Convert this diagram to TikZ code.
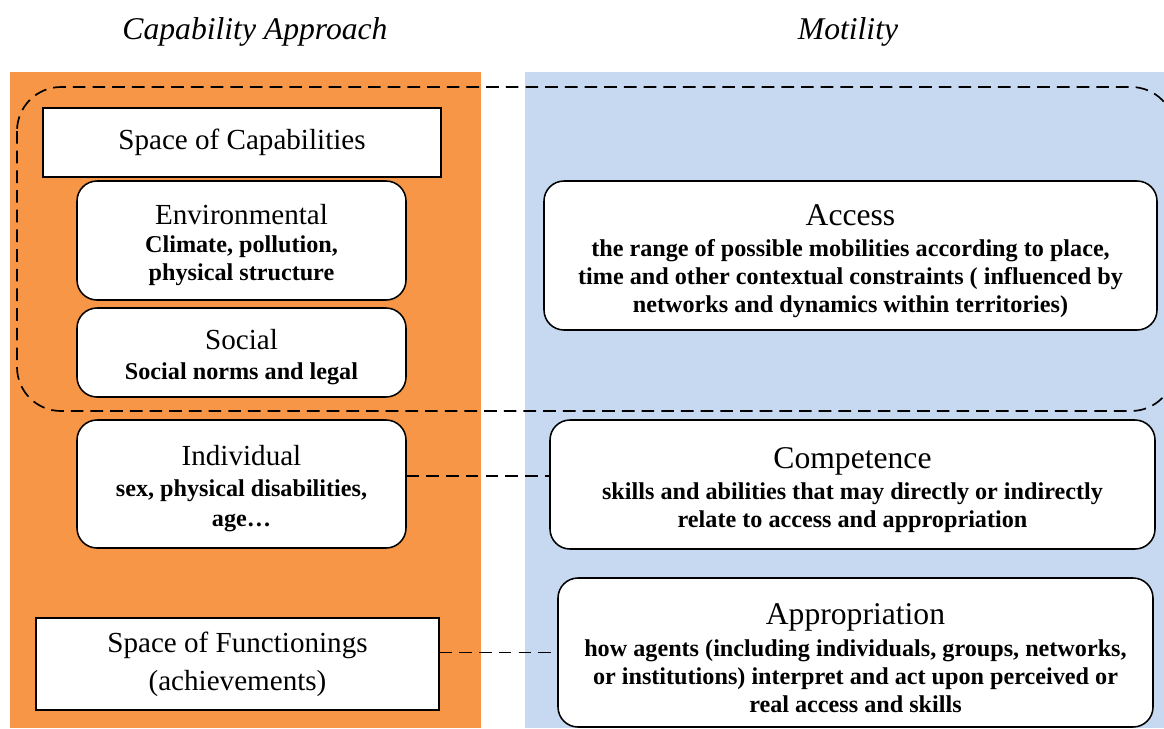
\documentclass[tikz,border=0pt]{standalone}
\usepackage{fontspec}
\setmainfont{Liberation Serif}

\definecolor{capaorange}{HTML}{F79646}
\definecolor{motiblue}{HTML}{C6D9F1}

\tikzset{
  heading/.style={font=\fontsize{22.5}{26}\selectfont\itshape},
  spacebox/.style={draw, line width=1.1pt, fill=white, inner sep=0pt,
    align=center, font=\fontsize{20.7}{27}\selectfont},
  factorbox/.style={draw, line width=1.1pt, fill=white, rounded corners=0.5cm,
    inner sep=0pt, align=center, font=\fontsize{17.2}{20}\selectfont\bfseries},
  dashlink/.style={line width=1.2pt, dash pattern=on 9pt off 5pt}
}

% titles inside the rounded boxes (the strut pushes the text block down a bit)
\newcommand{\lefttitle}[1]{{\normalfont\fontsize{20.7}{20}\selectfont\rule{0pt}{21pt}#1}}
\newcommand{\righttitle}[1]{{\normalfont\fontsize{22.5}{20}\selectfont\rule{0pt}{23pt}#1}}

\begin{document}
\begin{tikzpicture}

  \clip (0,0) rectangle (29.1,-18.2);

  % the two columns
  \fill[capaorange] (0.25,-1.8) rectangle (12.025,-18.2);
  \fill[motiblue] (13.125,-1.8) rectangle (29.1,-18.2);

  \node[heading] (capa) at (6.375,-0.8) {Capability Approach};
  \node[heading] (moti) at (21.2,-0.8) {Motility};

  % capabilities side
  \node[spacebox, minimum width=9.95cm, minimum height=1.725cm] (capspace) at (6.05,-3.5625)
    {Space of Capabilities};
  \node[factorbox, minimum width=8.225cm, minimum height=2.975cm] (env) at (6.0375,-6.0125)
    {\lefttitle{Environmental}\\ Climate, pollution,\\ physical structure};
  \node[factorbox, minimum width=8.225cm, minimum height=2.225cm] (social) at (6.0375,-8.8125)
    {\lefttitle{Social}\\[1pt] Social norms and legal};
  \node[factorbox, minimum width=8.225cm, minimum height=3.2cm] (indiv) at (6.0375,-12.1)
    {\lefttitle{Individual}\\[2pt] sex, physical disabilities,\\[1pt] age\dots};
  \node[spacebox, minimum width=10.075cm, minimum height=2.3cm] (funcspace) at (5.9375,-16.6)
    {Space of Functionings\\ (achievements)};

  % motility side
  \node[factorbox, minimum width=15.325cm, minimum height=3.725cm] (access) at (21.2625,-6.3875)
    {\righttitle{Access}\\[2pt] the range of possible mobilities according to place,\\
     time and other contextual constraints ( influenced by\\
     networks and dynamics within territories)};
  \node[factorbox, minimum width=15.125cm, minimum height=3.225cm] (compet) at (21.3125,-12.1125)
    {\righttitle{Competence}\\[2pt] skills and abilities that may directly or indirectly\\
     relate to access and appropriation};
  \node[factorbox, minimum width=14.875cm, minimum height=3.725cm] (approp) at (21.3875,-16.3125)
    {\righttitle{Appropriation}\\[3pt] how agents (including individuals, groups, networks,\\
     or institutions) interpret and act upon perceived or\\
     real access and skills};

  % dashed frame and links
  \draw[dashlink, rounded corners=1.1cm] (0.425,-2.175) rectangle (29.375,-10.275);
  \draw[dashlink] ([yshift=0.2cm]indiv.east) -- ([yshift=0.2cm]indiv.east -| compet.west);
  \draw[dashlink] (approp.west -| funcspace.east) -- (approp.west);

\end{tikzpicture}
\end{document}
